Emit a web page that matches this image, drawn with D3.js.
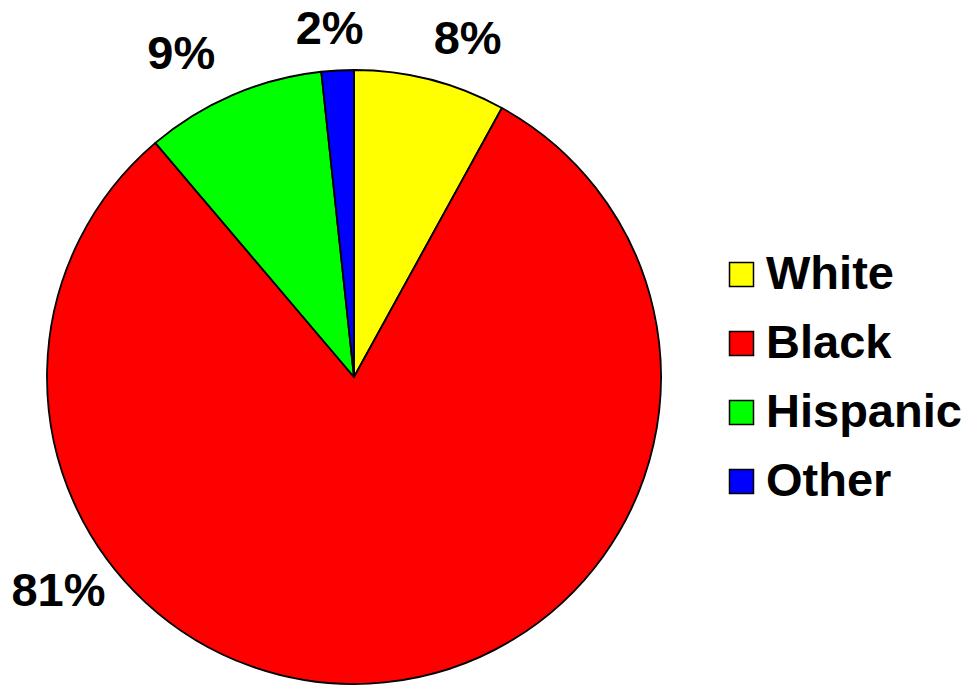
<!DOCTYPE html>
<html>
<head>
<meta charset="utf-8">
<script src="https://cdn.jsdelivr.net/npm/d3@7"></script>
<style>
  html, body { margin: 0; padding: 0; background: #fff; }
  svg { display: block; }
  text { font-family: "Liberation Sans", Arial, sans-serif; font-weight: bold; fill: #000; }
</style>
</head>
<body>
<svg id="chart" width="968" height="685"></svg>
<script>
// ---- data ----
const categories = ["White", "Black", "Hispanic", "Other"];
const values = [8.0, 80.8, 9.5, 1.7];
const pctLabels = ["8%", "81%", "9%", "2%"];
const colors = ["#FFFF00", "#FF0000", "#00FF00", "#0000FF"];

// ---- layout ----
const W = 968, H = 685;
const cx = 354, cy = 377, R = 307;
// label placement (polar, degrees clockwise from 12 o'clock, distance from centre)
const labelPlacement = {
  "White":    { angle: 18.5, dist: 358 },
  "Black":    { angle: 234.3, dist: 364 },
  "Hispanic": { angle: 332.0, dist: 368 },
  "Other":    { angle: 356.0, dist: 350 }
};
const fontSize = 47;

const svg = d3.select("#chart");
const data = categories.map((c, i) => ({ cat: c, value: values[i], label: pctLabels[i], color: colors[i] }));

const pie = d3.pie().value(d => d.value).sort(null).startAngle(0).endAngle(2 * Math.PI);
const arc = d3.arc().innerRadius(0).outerRadius(R);

const g = svg.append("g").attr("transform", `translate(${cx},${cy})`);
g.selectAll("path.slice")
  .data(pie(data))
  .join("path")
  .attr("class", "slice")
  .attr("d", arc)
  .attr("fill", d => d.data.color)
  .attr("stroke", "#000")
  .attr("stroke-width", 1.8)
  .attr("stroke-linejoin", "round");

// percentage labels
g.selectAll("text.pct")
  .data(pie(data))
  .join("text")
  .attr("class", "pct")
  .attr("text-anchor", "middle")
  .attr("dominant-baseline", "central")
  .style("font-size", fontSize + "px")
  .attr("x", d => {
    const p = labelPlacement[d.data.cat];
    return p.dist * Math.sin(p.angle * Math.PI / 180);
  })
  .attr("y", d => {
    const p = labelPlacement[d.data.cat];
    return -p.dist * Math.cos(p.angle * Math.PI / 180);
  })
  .text(d => d.data.label);

// legend
const legendX = 729, legendY0 = 262, legendStep = 69, box = 25;
const legendScale = d3.scalePoint().domain(categories).range([legendY0, legendY0 + legendStep * (categories.length - 1)]);
const lg = svg.append("g");
const items = lg.selectAll("g.item").data(data).join("g")
  .attr("class", "item")
  .attr("transform", d => `translate(${legendX},${legendScale(d.cat)})`);
items.append("rect")
  .attr("x", 0.5).attr("y", 0.5)
  .attr("width", box - 1).attr("height", box - 1)
  .attr("fill", d => d.color)
  .attr("stroke", "#000")
  .attr("stroke-width", 1.5);
items.append("text")
  .attr("x", 37)
  .attr("y", box / 2 + 14)
  .style("font-size", fontSize + "px")
  .text(d => d.cat);
</script>
</body>
</html>
